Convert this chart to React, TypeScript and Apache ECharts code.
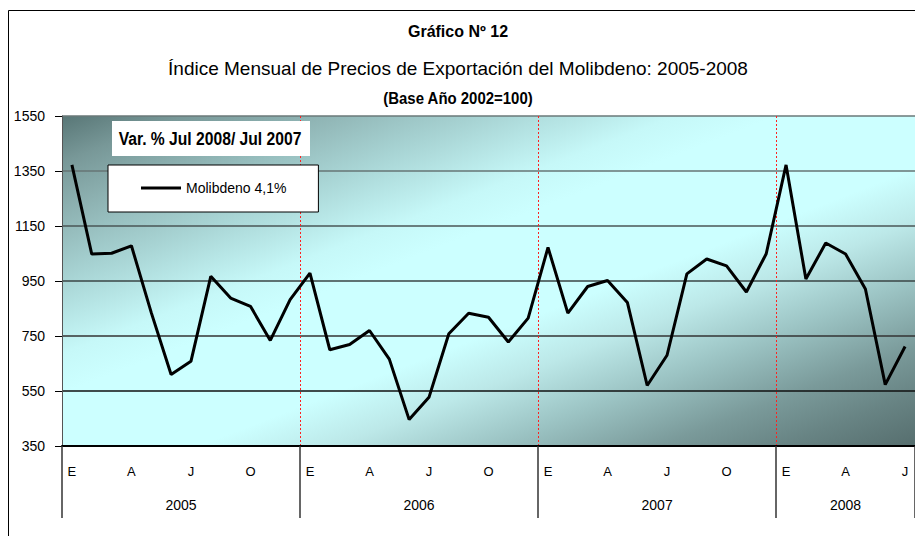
import React, { useEffect, useRef } from "react";
import * as echarts from "echarts";

const months = ["E","F","M","A","M","J","J","A","S","O","N","D",
  "E","F","M","A","M","J","J","A","S","O","N","D",
  "E","F","M","A","M","J","J","A","S","O","N","D",
  "E","F","M","A","M","J","J"];

const molibdeno = [
  1372, 1048, 1051, 1078, 835, 610, 658, 967, 888, 858, 734, 882,
  979, 700, 719, 770, 666, 446, 527, 758, 833, 818, 728, 815,
  1072, 833, 930, 952, 872, 570, 680, 976, 1030, 1005, 910, 1049,
  1372, 957, 1088, 1048, 921, 573, 712
];

const years = ["2005", "2006", "2007", "2008"];
const yearCenters = [6, 18, 30, 39.5];
const yTicks = [350, 550, 750, 950, 1150, 1350, 1550];

const ARIAL = "'Liberation Sans', Arial, sans-serif";

export default function App() {
  const ref = useRef<HTMLDivElement>(null);
  useEffect(() => {
    if (!ref.current) return;
    const chart = echarts.init(ref.current, null, { renderer: "svg" });
    const bg = new echarts.graphic.LinearGradient(0, 0, 1, 1, [
      { offset: 0, color: "#587676" },
      { offset: 0.07, color: "#789898" },
      { offset: 0.14, color: "#8cb0b0" },
      { offset: 0.25, color: "#a8d4d4" },
      { offset: 0.36, color: "#c6f8f8" },
      { offset: 0.42, color: "#ccffff" },
      { offset: 0.58, color: "#ccffff" },
      { offset: 0.66, color: "#bce8e8" },
      { offset: 0.75, color: "#9cc4c4" },
      { offset: 0.85, color: "#7a9a9a" },
      { offset: 0.92, color: "#688484" },
      { offset: 1, color: "#566e6e" },
    ]);
    chart.setOption({
      animation: false,
      backgroundColor: "#ffffff",
      legend: {
        left: 108, top: 165,
        padding: [16, 32, 17, 33],
        backgroundColor: "#ffffff",
        borderColor: "#000", borderWidth: 1,
        icon: "rect", itemWidth: 40, itemHeight: 3,
        textStyle: { fontFamily: ARIAL, fontSize: 14, color: "#000" },
        data: [{ name: "Molibdeno 4,1%" }],
      },
      graphic: [
        { type: "rect", x: 8.5, y: 10.5, shape: { width: 1000, height: 1000 },
          style: { fill: "none", stroke: "#000", lineWidth: 1 }, z: 100 },
        { type: "text", x: 458, y: 31, z: 10,
          style: { text: "Gráfico Nº 12", fontFamily: ARIAL, fontSize: 16, fontWeight: "bold",
            fill: "#000", align: "center", verticalAlign: "middle" } },
        { type: "text", x: 458, y: 68, z: 10,
          style: { text: "Índice Mensual de Precios de Exportación del Molibdeno: 2005-2008", fontFamily: ARIAL,
            fontSize: 19, fill: "#000", align: "center", verticalAlign: "middle" } },
        { type: "text", x: 458, y: 98, z: 10, scaleX: 0.88,
          style: { text: "(Base Año 2002=100)", fontFamily: ARIAL, fontSize: 17, fontWeight: "bold",
            fill: "#000", align: "center", verticalAlign: "middle" } },
        { type: "rect", x: 112, y: 121, shape: { width: 198, height: 35 },
          style: { fill: "#ffffff" }, z: 50 },
        { type: "text", x: 210, y: 139, z: 51, scaleX: 0.87,
          style: { text: "Var. % Jul 2008/ Jul 2007", fontFamily: ARIAL, fontSize: 18, fontWeight: "bold",
            fill: "#000", align: "center", verticalAlign: "middle" } },
      ],
      grid: { left: 62, top: 116, width: 858, height: 330, show: true, backgroundColor: bg, borderWidth: 0 },
      xAxis: [
        {
          type: "category", data: months, boundaryGap: true,
          axisLine: { show: true, lineStyle: { color: "#000", width: 2 } },
          axisTick: { show: true, interval: (i: number) => i % 12 === 0, length: 72,
            lineStyle: { color: "#333", width: 1.5 } },
          axisLabel: { interval: (i: number) => i % 3 === 0, margin: 19,
            fontFamily: ARIAL, fontSize: 13, color: "#000" },
          splitLine: { show: true, interval: (i: number) => i % 12 === 0 && i > 0,
            lineStyle: { color: "#ff2020", type: [2, 2], width: 1 } },
        },
        {
          type: "value", min: 0, max: 43, position: "bottom",
          axisLine: { show: false }, axisTick: { show: false }, splitLine: { show: false },
          axisLabel: { customValues: yearCenters, margin: 52, fontFamily: ARIAL, fontSize: 14, color: "#000",
            formatter: (v: number) => years[yearCenters.indexOf(v)] ?? "" },
        },
      ],
      yAxis: {
        type: "value", min: yTicks[0], max: yTicks[yTicks.length - 1], interval: 200,
        axisLine: { show: true, lineStyle: { color: "#555", width: 1 } },
        axisTick: { show: true, length: 7, lineStyle: { color: "#000" } },
        axisLabel: { margin: 17, fontFamily: ARIAL, fontSize: 14, color: "#000",
          formatter: (v: number) => String(v) },
        splitLine: { show: true, lineStyle: { color: ["#000", "#111", "#333", "#3a4444", "#4a5656", "#667474", "#6a7878"], width: 1.5 } },
      },
      series: [
        {
          name: "Molibdeno 4,1%", type: "line", data: molibdeno, xAxisIndex: 0,
          showSymbol: false, symbol: "none",
          lineStyle: { color: "#000", width: 3 }, itemStyle: { color: "#000" },
        },
      ],
    });
    return () => chart.dispose();
  }, []);
  return <div ref={ref} style={{ position: "absolute", left: 0, top: 0, width: 915, height: 536 }} />;
}
